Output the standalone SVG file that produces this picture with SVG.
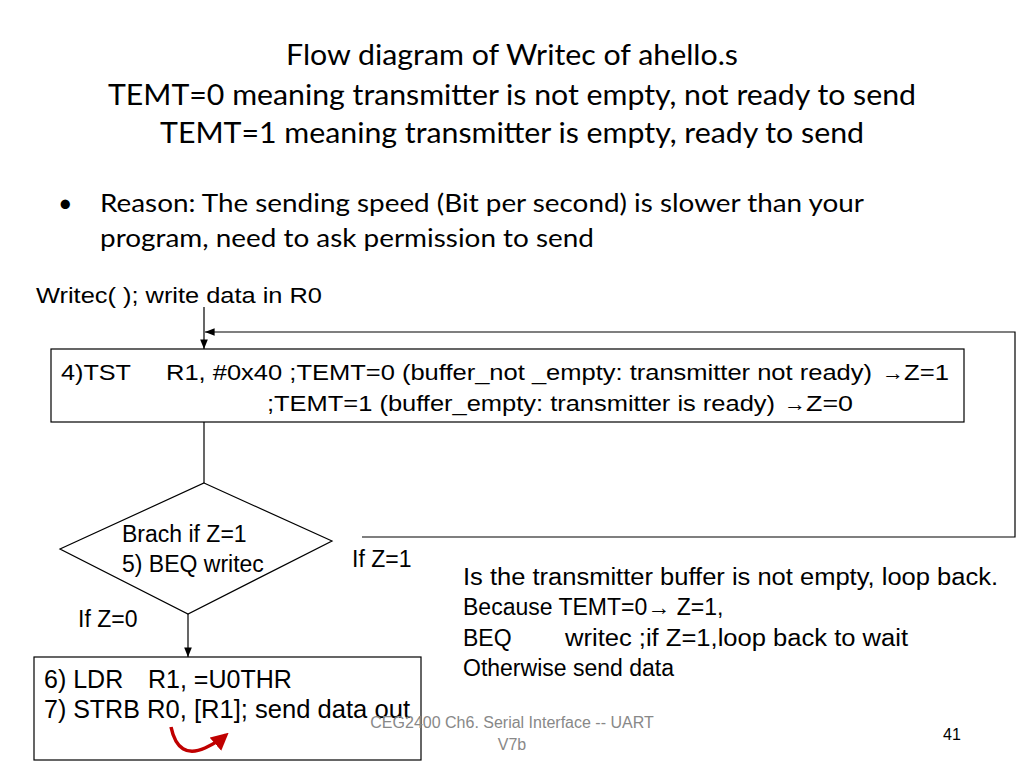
<svg xmlns="http://www.w3.org/2000/svg" width="1024" height="768" viewBox="0 0 1024 768">
<style>
.t{font-family:Lato,"Open Sans",sans-serif;fill:#000}
.a{font-family:"Liberation Sans",Arial,sans-serif;fill:#000}
.s{fill:none;stroke:#000;stroke-width:1.2}
</style>
<defs><marker id="ah" viewBox="0 0 10 10" refX="10" refY="5" markerWidth="8" markerHeight="8" orient="auto"><path d="M0,1 L10,5 L0,9 z" fill="#000"/></marker>
<marker id="rh" viewBox="0 0 10 10" refX="8" refY="5" markerWidth="5" markerHeight="5" orient="auto"><path d="M0,0 L10,5 L0,10 z" fill="#c00000"/></marker></defs>
<rect width="1024" height="768" fill="#fff"/>
<g class="t" font-size="28">
<text x="286" y="65" textLength="452" lengthAdjust="spacingAndGlyphs">Flow diagram of Writec of ahello.s</text>
<text x="108" y="105" textLength="808" lengthAdjust="spacingAndGlyphs">TEMT=0 meaning transmitter is not empty, not ready to send</text>
<text x="160" y="143" textLength="704" lengthAdjust="spacingAndGlyphs">TEMT=1 meaning transmitter is empty, ready to send</text>
</g>
<g class="t" font-size="25">
<text x="58" y="212">•</text>
<text x="100" y="212" textLength="764" lengthAdjust="spacingAndGlyphs">Reason: The sending speed (Bit per second) is slower than your</text>
<text x="100" y="247" textLength="494" lengthAdjust="spacingAndGlyphs">program, need to ask permission to send</text>
</g>
<text class="a" x="36" y="303" font-size="22" textLength="286" lengthAdjust="spacingAndGlyphs">Writec( ); write data in R0</text>
<g id="n1"><rect class="s" x="51" y="349" width="913" height="73"/>
<text class="a" x="61" y="380" font-size="22" textLength="70" lengthAdjust="spacingAndGlyphs">4)TST</text>
<text class="a" x="166" y="380" font-size="22" textLength="706" lengthAdjust="spacingAndGlyphs">R1, #0x40 ;TEMT=0 (buffer_not _empty: transmitter not ready)</text>
<text class="a" x="882" y="380" font-size="22" font-weight="bold">→</text>
<text class="a" x="904" y="380" font-size="22" textLength="45" lengthAdjust="spacingAndGlyphs">Z=1</text>
<text class="a" x="267" y="411" font-size="22" textLength="508" lengthAdjust="spacingAndGlyphs">;TEMT=1 (buffer_empty: transmitter is ready)</text>
<text class="a" x="784" y="411" font-size="22" font-weight="bold">→</text>
<text class="a" x="806" y="411" font-size="22" textLength="47" lengthAdjust="spacingAndGlyphs">Z=0</text></g>
<g id="n2"><path class="s" d="M204,483 L332,541 L188,614 L60,549 Z"/>
<text class="a" x="122" y="542" font-size="23">Brach if Z=1</text>
<text class="a" x="122" y="572" font-size="23">5) BEQ writec</text></g>
<g id="n3"><rect class="s" x="34" y="657" width="387" height="103"/>
<text class="a" x="44" y="688" font-size="25">6) LDR</text>
<text class="a" x="148" y="688" font-size="25">R1, =U0THR</text>
<text class="a" x="44" y="718" font-size="25">7) STRB</text>
<text class="a" x="147" y="718" font-size="25" textLength="263" lengthAdjust="spacingAndGlyphs">R0, [R1]; send data out</text>
<path d="M171,727 Q178,760 205,748 Q218,742 226,735" fill="none" stroke="#c00000" stroke-width="3.5" marker-end="url(#rh)"/></g>
<g id="connectors">
<line class="s" x1="204" y1="307" x2="204" y2="349" marker-end="url(#ah)"/>
<line class="s" x1="204" y1="422" x2="204" y2="483"/>
<path class="s" d="M362,537 L1015,537 L1015,332 L205,332" marker-end="url(#ah)"/>
<line class="s" x1="188" y1="614" x2="188" y2="657" marker-end="url(#ah)"/>
</g>
<g class="a" font-size="23">
<text x="352" y="567">If Z=1</text>
<text x="78" y="627">If Z=0</text>
<text x="463" y="585" textLength="535" lengthAdjust="spacingAndGlyphs">Is the transmitter buffer is not empty, loop back.</text>
<text x="463" y="615">Because TEMT=0<tspan font-weight="bold">→</tspan> Z=1,</text>
<text x="463" y="646">BEQ</text>
<text x="565" y="646" textLength="343" lengthAdjust="spacingAndGlyphs">writec ;if Z=1,loop back to wait</text>
<text x="463" y="676">Otherwise send data</text>
</g>
<g class="a" font-size="16" text-anchor="middle" style="fill:#888">
<text x="512" y="728">CEG2400 Ch6. Serial Interface -- UART</text>
<text x="512" y="750">V7b</text>
</g>
<text class="a" x="952" y="740" font-size="16" text-anchor="middle">41</text>
</svg>
